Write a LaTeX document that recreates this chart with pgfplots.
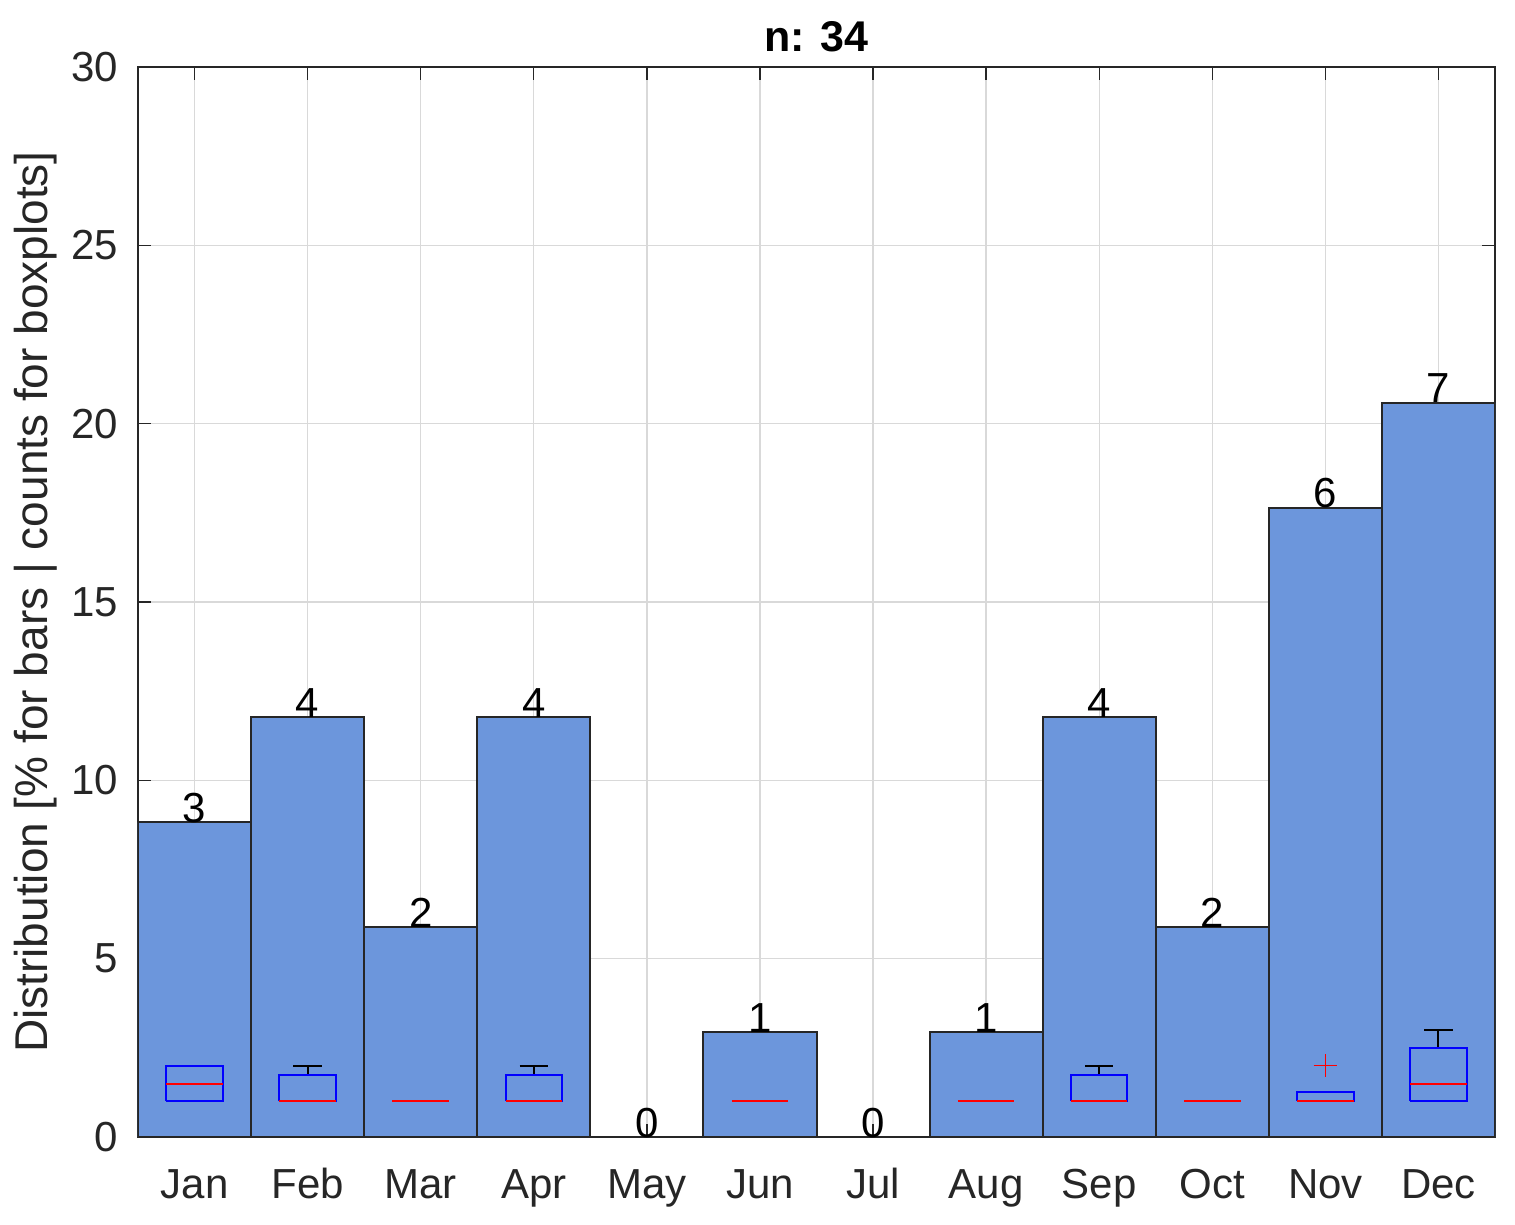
\documentclass[border=0pt]{standalone}
\usepackage{pgfplots}
\pgfplotsset{compat=1.18}
\usepackage{pgfplotstable}
\usepackage{fontspec}
\setmainfont{Liberation Sans}
\definecolor{barblue}{RGB}{108,150,220}
\definecolor{axgray}{RGB}{38,38,38}
\pgfplotstableread{
x y n
1 8.8235 3
2 11.7647 4
3 5.8824 2
4 11.7647 4
5 0 0
6 2.9412 1
7 0 0
8 2.9412 1
9 11.7647 4
10 5.8824 2
11 17.6471 6
12 20.5882 7
}\bars
\begin{document}
\fontsize{12.6}{15}\selectfont
\begin{tikzpicture}
\begin{axis}[
  name=ax,
  scale only axis,
  width=407.1pt, height=321pt,
  xmin=0.5, xmax=12.5, ymin=0, ymax=30,
  xtick={1,...,12},
  xticklabels={Jan,Feb,Mar,Apr,May,Jun,Jul,Aug,Sep,Oct,Nov,Dec},
  ytick={0,5,...,30},
  tick align=inside,
  major tick length=3.9pt,
  tick style={axgray, line width=0.4pt},
  axis line style={axgray, line width=0.5pt},
  grid=major,
  major grid style={black!15, line width=0.4pt},
  tick label style={text=axgray, font=\fontsize{12.6}{15}\selectfont},
  /pgf/number format/assume math mode=true,
  xticklabel style={anchor=base, inner sep=0pt, yshift=-18.3pt},
  yticklabel style={xshift=-1.5pt},
  ylabel={Distribution [\% for bars | counts for boxplots]},
  ylabel style={text=axgray, font=\fontsize{13.8}{16}\selectfont, yshift=-4.2pt},
  title={\textbf{n: 34}},
  title style={font=\fontsize{12.9}{15}\selectfont\bfseries, yshift=-6pt},
  unbounded coords=jump,
]
\addplot[ybar, bar width=1, bar shift=0, fill=barblue, draw=axgray, line width=0.6pt,
  nodes near coords, point meta=explicit symbolic,
  nodes near coords style={anchor=base, inner sep=0pt, text=black, font=\fontsize{12.6}{15}\selectfont}]
  table[x=x, y=y, meta=n] {\bars};
% whiskers (black)
\addplot[black, line width=0.6pt, mark=none] coordinates {
 (2,1.75) (2,2) (nan,nan) (1.875,2) (2.125,2) (nan,nan)
 (4,1.75) (4,2) (nan,nan) (3.875,2) (4.125,2) (nan,nan)
 (9,1.75) (9,2) (nan,nan) (8.875,2) (9.125,2) (nan,nan)
 (12,2.5) (12,3) (nan,nan) (11.875,3) (12.125,3)
};
% boxes (blue)
\addplot[blue, line width=0.6pt, mark=none] coordinates {
 (0.75,1) (1.25,1) (1.25,2) (0.75,2) (0.75,1) (nan,nan)
 (1.75,1) (2.25,1) (2.25,1.75) (1.75,1.75) (1.75,1) (nan,nan)
 (3.75,1) (4.25,1) (4.25,1.75) (3.75,1.75) (3.75,1) (nan,nan)
 (8.75,1) (9.25,1) (9.25,1.75) (8.75,1.75) (8.75,1) (nan,nan)
 (10.75,1) (11.25,1) (11.25,1.25) (10.75,1.25) (10.75,1) (nan,nan)
 (11.75,1) (12.25,1) (12.25,2.5) (11.75,2.5) (11.75,1)
};
% medians (red)
\addplot[red, line width=0.6pt, mark=none] coordinates {
 (0.75,1.5) (1.25,1.5) (nan,nan)
 (1.75,1) (2.25,1) (nan,nan)
 (2.75,1) (3.25,1) (nan,nan)
 (3.75,1) (4.25,1) (nan,nan)
 (5.75,1) (6.25,1) (nan,nan)
 (7.75,1) (8.25,1) (nan,nan)
 (8.75,1) (9.25,1) (nan,nan)
 (9.75,1) (10.25,1) (nan,nan)
 (10.75,1) (11.25,1) (nan,nan)
 (11.75,1.5) (12.25,1.5)
};
% outlier
\addplot[only marks, mark=+, red, mark size=3.5pt, line width=0.3pt] coordinates {(11,2)};
\coordinate (bl) at (rel axis cs:0,0);
\coordinate (tr) at (rel axis cs:1,1);
\end{axis}
\pgfresetboundingbox
\path ([shift={(-41.4pt,-26.1pt)}]bl) rectangle ([shift={(6pt,20.1pt)}]tr);
\end{tikzpicture}
\end{document}
